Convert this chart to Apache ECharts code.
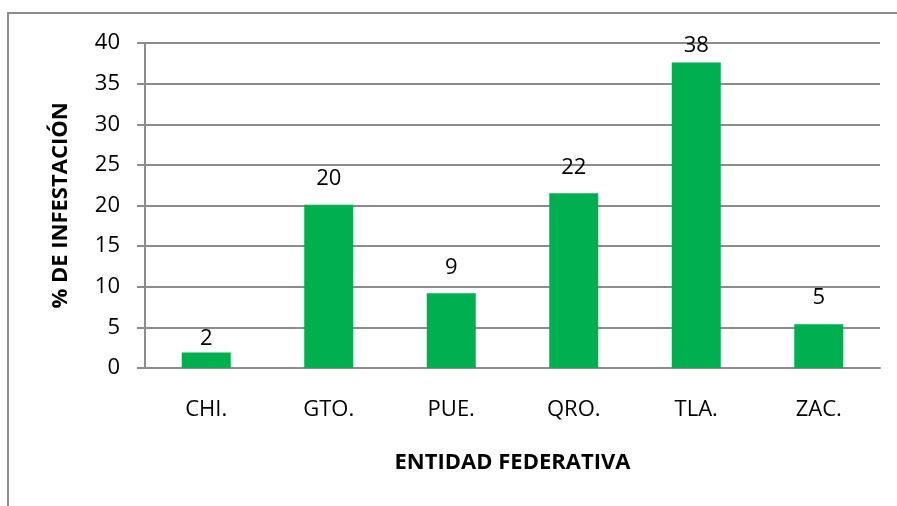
<!DOCTYPE html>
<html>
<head>
<meta charset="utf-8">
<script src="https://cdn.jsdelivr.net/npm/echarts@6/dist/echarts.min.js"></script>
<style>
  html, body { margin: 0; padding: 0; background: #fff; }
  #main { width: 897px; height: 506px; }
</style>
</head>
<body>
<div id="main"></div>
<script type="text/javascript">
  // datos
  var entidades = ['CHI.', 'GTO.', 'PUE.', 'QRO.', 'TLA.', 'ZAC.'];
  var infestacion = [1.9, 20.1, 9.2, 21.5, 37.6, 5.4];
  var ticksY = [0, 5, 10, 15, 20, 25, 30, 35, 40];

  var fuente = '"Open Sans", "Liberation Sans", sans-serif';
  var myChart = echarts.init(document.getElementById('main'));

  // en el original algunas etiquetas quedaron mas pegadas a la barra
  var separacion = { 'CHI.': 3, 'TLA.': 6 };
  var barras = infestacion.map(function (v, i) {
    var d = separacion[entidades[i]];
    return d === undefined ? v : { value: v, label: { distance: d } };
  });

  var option = {
    animation: false,
    graphic: [
      {
        type: 'rect',
        shape: { x: 8, y: 13, width: 1000, height: 1000 },
        style: { fill: 'none', stroke: '#8c8c8c', lineWidth: 2 },
        silent: true
      }
    ],
    grid: {
      left: 145,
      right: 17,
      top: 43,
      bottom: 138
    },
    xAxis: {
      type: 'category',
      data: entidades,
      name: 'ENTIDAD FEDERATIVA',
      nameLocation: 'middle',
      nameGap: 84,
      nameTextStyle: { fontFamily: fuente, fontSize: 22, fontWeight: 'bold', color: '#000' },
      axisLine: { lineStyle: { color: '#8c8c8c', width: 2 } },
      axisTick: { show: false },
      axisLabel: { fontFamily: fuente, fontSize: 22, color: '#000', margin: 31 }
    },
    yAxis: {
      type: 'value',
      min: ticksY[0],
      max: ticksY[ticksY.length - 1],
      interval: 5,
      name: '% DE INFESTACIÓN',
      nameLocation: 'middle',
      nameRotate: 90,
      nameGap: 73,
      nameTextStyle: { fontFamily: fuente, fontSize: 22, fontWeight: 'bold', color: '#000' },
      axisLine: { show: true, lineStyle: { color: '#8c8c8c', width: 2 } },
      axisTick: { show: true, length: 8, lineStyle: { color: '#8c8c8c', width: 2 } },
      axisLabel: { fontFamily: fuente, fontSize: 22, color: '#000', margin: 25 },
      splitLine: { lineStyle: { color: '#8c8c8c', width: 2 } }
    },
    series: [
      {
        type: 'bar',
        data: barras,
        barWidth: '40%',
        itemStyle: { color: '#00b050' },
        label: {
          show: true,
          position: 'top',
          distance: 15,
          fontFamily: fuente,
          fontSize: 22,
          color: '#000',
          formatter: function (p) { return Math.round(p.value); }
        }
      }
    ]
  };
  myChart.setOption(option);
</script>
</body>
</html>
